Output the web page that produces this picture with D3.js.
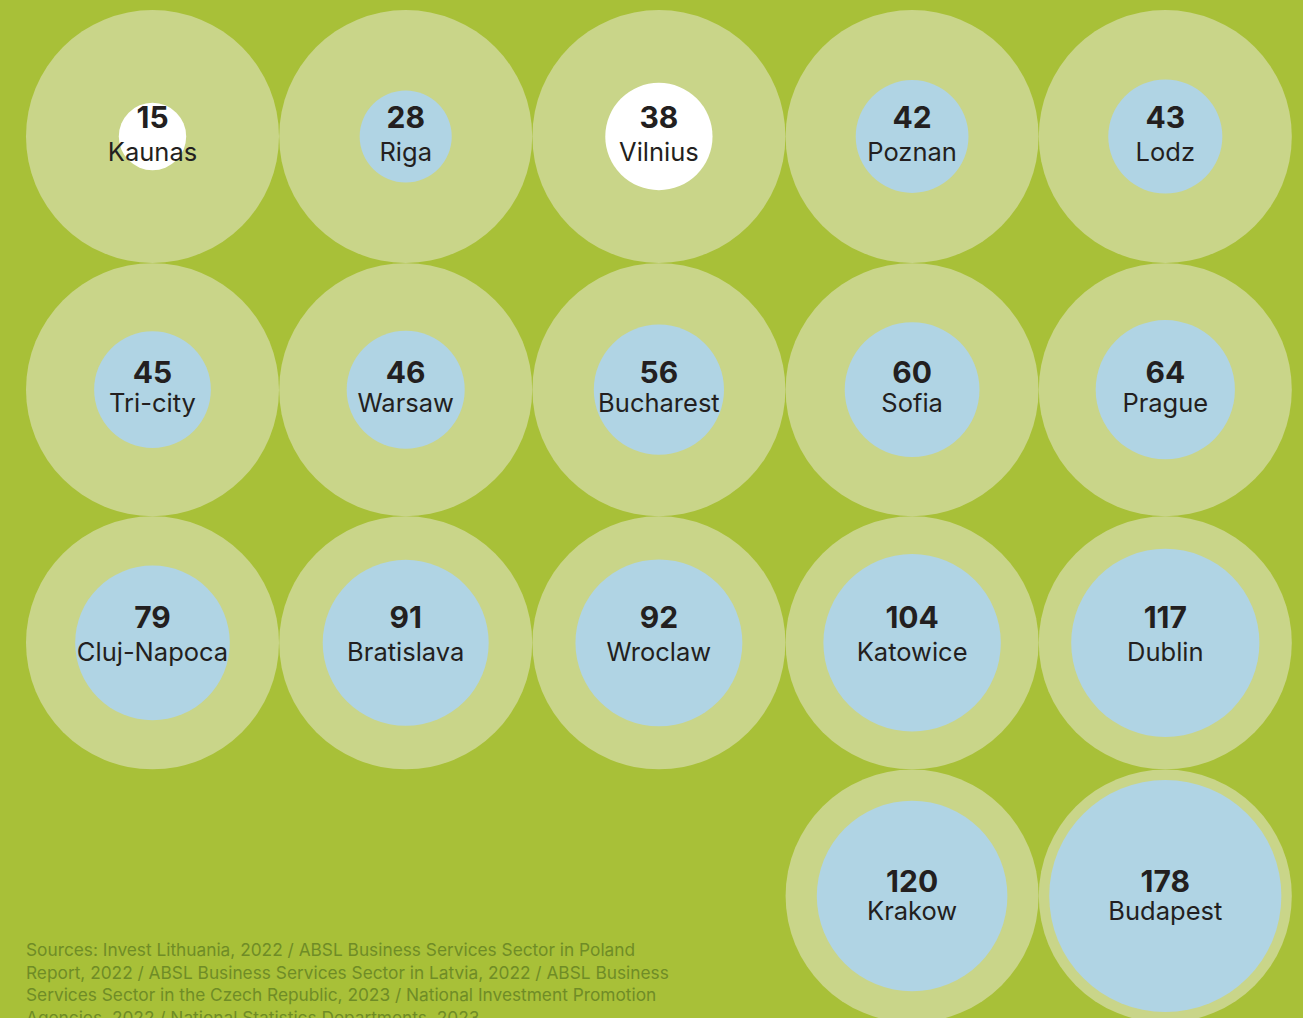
<!DOCTYPE html>
<html>
<head>
<meta charset="utf-8">
<script src="https://cdn.jsdelivr.net/npm/d3@7"></script>
<style>
html,body{margin:0;padding:0;background:#a8c038;overflow:hidden;}
svg{display:block;}
</style>
</head>
<body>
<svg id="chart" width="1303" height="1018"></svg>
<script>
const cities = ["Kaunas","Riga","Vilnius","Poznan","Lodz","Tri-city","Warsaw","Bucharest","Sofia","Prague","Cluj-Napoca","Bratislava","Wroclaw","Katowice","Dublin","Krakow","Budapest"];
const values = [15,28,38,42,43,45,46,56,60,64,79,91,92,104,117,120,178];
const highlighted = ["Kaunas","Vilnius"];
const sourceLines = [
  "Sources: Invest Lithuania, 2022 / ABSL Business Services Sector in Poland",
  "Report, 2022 / ABSL Business Services Sector in Latvia, 2022 / ABSL Business",
  "Services Sector in the Czech Republic, 2023 / National Investment Promotion",
  "Agencies, 2022 / National Statistics Departments, 2023"
];

const W = 1303, H = 1018;
const nCols = 5;
const svg = d3.select("#chart");
svg.append("rect").attr("width", W).attr("height", H).attr("fill", "#a8c038");

const data = cities.map((c, i) => ({city: c, value: values[i]}));
const nRows = Math.ceil(data.length / nCols);
const lastRowCount = data.length - (nRows - 1) * nCols;
data.forEach((d, i) => {
  const row = Math.floor(i / nCols);
  let col = i % nCols;
  if (row === nRows - 1) col += nCols - lastRowCount;
  d.row = row; d.col = col;
});

const x = d3.scaleLinear().domain([0, nCols - 1]).range([152.5, 1165.3]);
const y = d3.scaleLinear().domain([0, nRows - 1]).range([136.5, 896]);
const r = d3.scaleSqrt().domain([0, 100]).range([0, 87]);
const outerR = 126.5;
const numOffset = [-8.5, -7, -15, -4.5];
const cityOffset = [24.5, 22, 18, 24];

const g = svg.append("g");
const cell = g.selectAll("g.cell").data(data).join("g")
  .attr("class", "cell")
  .attr("transform", d => `translate(${x(d.col)},${y(d.row)})`);

cell.append("circle").attr("r", outerR).attr("fill", "#c9d589");
cell.append("circle").attr("r", d => r(d.value))
  .attr("fill", d => highlighted.includes(d.city) ? "#ffffff" : "#b0d4e4");

cell.append("text")
  .attr("text-anchor", "middle")
  .attr("y", d => numOffset[d.row])
  .attr("font-family", "Inter, 'Noto Sans', sans-serif")
  .attr("font-weight", 700)
  .attr("font-size", 30)
  .attr("fill", "#231f20")
  .text(d => d.value);

cell.append("text")
  .attr("text-anchor", "middle")
  .attr("y", d => cityOffset[d.row])
  .attr("font-family", "Inter, 'Noto Sans', sans-serif")
  .attr("font-weight", 400)
  .attr("font-size", 25.5)
  .attr("fill", "#231f20")
  .text(d => d.city);

svg.append("g").selectAll("text").data(sourceLines).join("text")
  .attr("x", 26)
  .attr("y", (d, i) => 956 + i * 22.5)
  .attr("font-family", "Inter, 'Noto Sans', sans-serif")
  .attr("font-size", 17.3)
  .attr("fill", "#6f8c26")
  .text(d => d);
</script>
</body>
</html>
